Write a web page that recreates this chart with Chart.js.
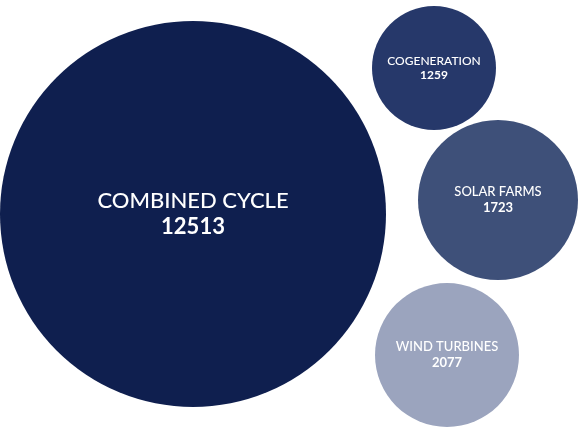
<!DOCTYPE html>
<html>
<head>
<meta charset="utf-8">
<script src="https://cdn.jsdelivr.net/npm/chart.js@4"></script>
<style>
  body { margin: 0; background: #fff; }
  canvas { display: block; }
</style>
</head>
<body>
<canvas id="grafico" width="583" height="428"></canvas>
<script>
// Datos
const categorias = ["COMBINED CYCLE", "COGENERATION", "SOLAR FARMS", "WIND TURBINES"];
const valores = [12513, 1259, 1723, 2077];
const posX = [193, 434, 498, 447];
const posY = [214, 68, 200, 355];
const radios = [193, 62, 80, 72];
const colores = ["#0f1f4f", "#26386a", "#3e5079", "#9ba4be"];
const tamanoTexto = [22, 12, 13, 13];

// Sin margen extra por el radio de las burbujas
Chart.controllers.bubble.prototype.getMaxOverflow = function () { return 0; };

// Etiquetas dentro de cada burbuja
const etiquetas = {
  id: "etiquetas",
  afterDatasetsDraw(chart) {
    const ctx = chart.ctx;
    const meta = chart.getDatasetMeta(0);
    ctx.save();
    ctx.fillStyle = "#ffffff";
    ctx.textAlign = "center";
    ctx.textBaseline = "middle";
    meta.data.forEach((p, i) => {
      const fs = tamanoTexto[i];
      ctx.font = `500 ${fs}px Lato, "Open Sans", sans-serif`;
      ctx.fillText(categorias[i], p.x, p.y - fs * 0.6);
      ctx.font = `bold ${fs}px Lato, "Open Sans", sans-serif`;
      ctx.fillText(String(valores[i]), p.x, p.y + fs * 0.6);
    });
    ctx.restore();
  }
};

new Chart(document.getElementById("grafico").getContext("2d"), {
  type: "bubble",
  data: {
    labels: categorias,
    datasets: [{
      data: valores.map((v, i) => ({ x: posX[i], y: posY[i], r: radios[i], v: v })),
      backgroundColor: colores,
      borderWidth: 0,
      hoverRadius: 0,
      clip: false
    }]
  },
  options: {
    responsive: false,
    animation: false,
    layout: { padding: 0 },
    plugins: { legend: { display: false }, tooltip: { enabled: false } },
    scales: {
      x: { display: false, min: 0, max: 583 },
      y: { display: false, min: 0, max: 428, reverse: true }
    }
  },
  plugins: [etiquetas]
});
</script>
</body>
</html>
